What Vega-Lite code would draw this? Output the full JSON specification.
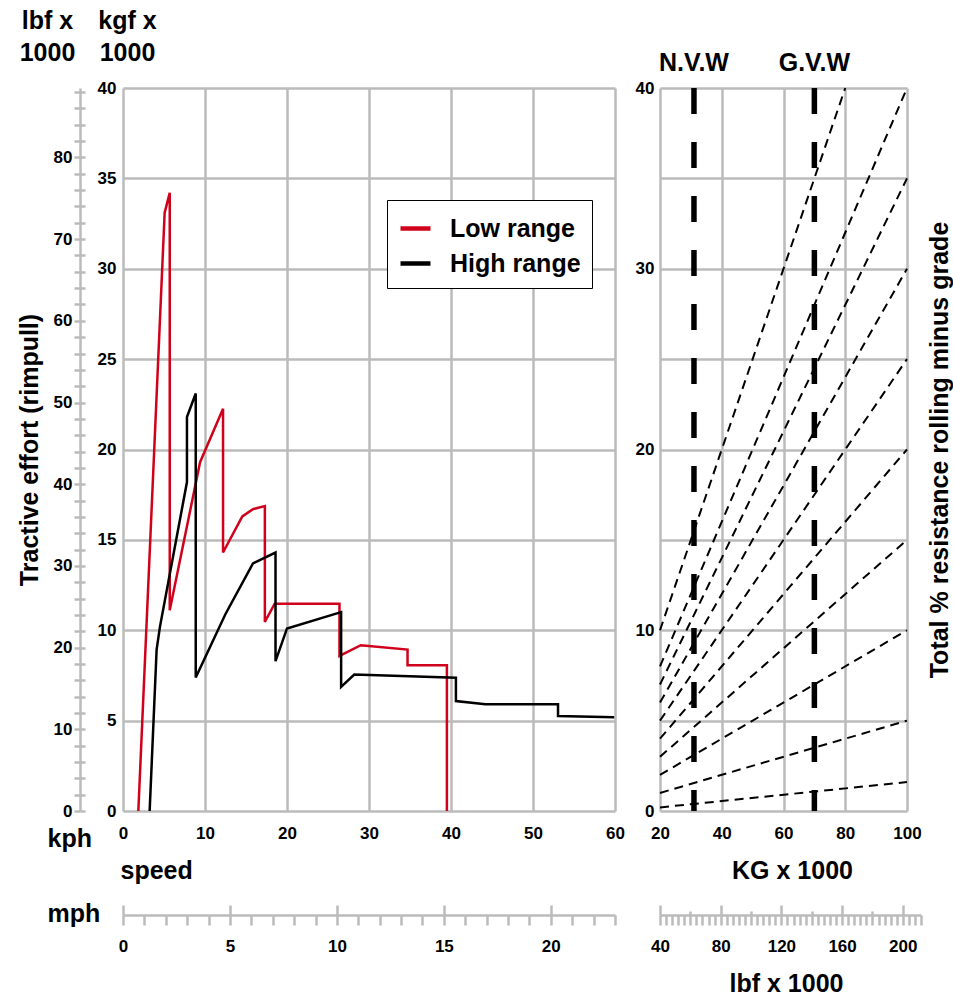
{
  "$schema": "https://vega.github.io/schema/vega-lite/v6.json",
  "background": "white",
  "padding": {"left": 17, "top": 8, "right": 5, "bottom": 5},
  "columns": 4,
  "align": "each",
  "bounds": "flush",
  "spacing": {"row": 0, "column": 45},
  "resolve": {"scale": {"color": "independent"}},
  "config": {
    "font": "Liberation Sans",
    "view": {"stroke": null},
    "axis": {
      "labelFont": "Liberation Sans", "labelFontSize": 17, "labelFontWeight": "bold", "labelColor": "#000",
      "titleFont": "Liberation Sans", "titleFontSize": 25, "titleFontWeight": "bold", "titleColor": "#000",
      "gridColor": "#bbbbbb", "gridWidth": 2.5, "gridOpacity": 1,
      "domainColor": "#bbbbbb", "domainWidth": 2.5,
      "tickColor": "#bbbbbb", "tickWidth": 2.5, "tickOpacity": 1,
      "labelFlush": false, "labelOverlap": false, "titlePadding": 0
    }
  },
  "concat": [
    {
      "width": 1, "height": 723,
      "data": {"values": [{}]},
      "mark": {"type": "rule", "opacity": 0},
      "encoding": {
        "y": {
          "datum": 0, "type": "quantitative",
          "scale": {"domain": [0, 88.5], "nice": false, "zero": false},
          "axis": {
            "orient": "left", "offset": -49,
            "values": [0,2,4,6,8,10,12,14,16,18,20,22,24,26,28,30,32,34,36,38,40,42,44,46,48,50,52,54,56,58,60,62,64,66,68,70,72,74,76,78,80,82,84,86,88],
            "labelExpr": "datum.value % 10 === 0 ? datum.label : ''",
            "grid": false, "domain": true, "ticks": true, "tickSize": 6, "labelPadding": 2,
            "title": ["lbf x", "1000"], "titleAngle": 0, "titleX": -33, "titleY": -80,
            "titleAlign": "center", "titleBaseline": "top", "titleLineHeight": 32
          }
        }
      }
    },
    {
      "width": 1, "height": 723,
      "data": {"values": [{}]},
      "mark": {"type": "rule", "opacity": 0},
      "encoding": {
        "y": {
          "datum": 0, "type": "quantitative",
          "scale": {"domain": [0, 88.5], "nice": false, "zero": false},
          "axis": {
            "orient": "left", "offset": -3,
            "values": [0,2,4,6,8,10,12,14,16,18,20,22,24,26,28,30,32,34,36,38,40,42,44,46,48,50,52,54,56,58,60,62,64,66,68,70,72,74,76,78,80,82,84,86,88],
            "labels": false, "grid": false, "domain": false, "ticks": true, "tickSize": -5,
            "title": "Tractive effort (rimpull)", "titleAngle": -90, "titleX": -51, "titleY": 361.5,
            "titleAlign": "center", "titleBaseline": "middle"
          }
        }
      }
    },
    {
      "width": 492,
      "height": 723,
      "data": {"values": [
        {"range": "Low range", "i": 1, "kph": 1.87, "kgf": 0},
        {"range": "Low range", "i": 2, "kph": 5.08, "kgf": 33.1},
        {"range": "Low range", "i": 3, "kph": 5.7, "kgf": 34.2},
        {"range": "Low range", "i": 4, "kph": 5.7, "kgf": 11.1},
        {"range": "Low range", "i": 5, "kph": 9.4, "kgf": 19.3},
        {"range": "Low range", "i": 6, "kph": 12.2, "kgf": 22.25},
        {"range": "Low range", "i": 7, "kph": 12.2, "kgf": 14.3},
        {"range": "Low range", "i": 8, "kph": 14.55, "kgf": 16.3},
        {"range": "Low range", "i": 9, "kph": 15.85, "kgf": 16.7},
        {"range": "Low range", "i": 10, "kph": 17.3, "kgf": 16.87},
        {"range": "Low range", "i": 11, "kph": 17.3, "kgf": 10.46},
        {"range": "Low range", "i": 12, "kph": 18.5, "kgf": 11.47},
        {"range": "Low range", "i": 13, "kph": 26.4, "kgf": 11.47},
        {"range": "Low range", "i": 14, "kph": 26.4, "kgf": 8.58},
        {"range": "Low range", "i": 15, "kph": 29.0, "kgf": 9.17},
        {"range": "Low range", "i": 16, "kph": 34.7, "kgf": 8.93},
        {"range": "Low range", "i": 17, "kph": 34.7, "kgf": 8.07},
        {"range": "Low range", "i": 18, "kph": 39.5, "kgf": 8.07},
        {"range": "Low range", "i": 19, "kph": 39.5, "kgf": 0},
        {"range": "High range", "i": 1, "kph": 3.25, "kgf": 0},
        {"range": "High range", "i": 2, "kph": 4.1, "kgf": 8.93},
        {"range": "High range", "i": 3, "kph": 4.51, "kgf": 10.2},
        {"range": "High range", "i": 4, "kph": 7.8, "kgf": 18.2},
        {"range": "High range", "i": 5, "kph": 7.8, "kgf": 21.8},
        {"range": "High range", "i": 6, "kph": 8.87, "kgf": 23.1},
        {"range": "High range", "i": 7, "kph": 8.87, "kgf": 7.39},
        {"range": "High range", "i": 8, "kph": 12.5, "kgf": 10.9},
        {"range": "High range", "i": 9, "kph": 15.85, "kgf": 13.7},
        {"range": "High range", "i": 10, "kph": 18.6, "kgf": 14.3},
        {"range": "High range", "i": 11, "kph": 18.6, "kgf": 8.29},
        {"range": "High range", "i": 12, "kph": 20.0, "kgf": 10.1},
        {"range": "High range", "i": 13, "kph": 26.6, "kgf": 11.0},
        {"range": "High range", "i": 14, "kph": 26.6, "kgf": 6.87},
        {"range": "High range", "i": 15, "kph": 28.2, "kgf": 7.55},
        {"range": "High range", "i": 16, "kph": 40.6, "kgf": 7.37},
        {"range": "High range", "i": 17, "kph": 40.6, "kgf": 6.08},
        {"range": "High range", "i": 18, "kph": 44.2, "kgf": 5.9},
        {"range": "High range", "i": 19, "kph": 53.05, "kgf": 5.9},
        {"range": "High range", "i": 20, "kph": 53.05, "kgf": 5.25},
        {"range": "High range", "i": 21, "kph": 59.9, "kgf": 5.18}
      ]},
      "mark": {"type": "line", "strokeWidth": 2.5, "strokeJoin": "miter"},
      "encoding": {
        "x": {
          "field": "kph", "type": "quantitative",
          "scale": {"domain": [0, 60], "nice": false, "zero": false},
          "axis": {
            "orient": "bottom", "values": [0, 10, 20, 30, 40, 50, 60], "grid": true, "ticks": false, "domain": false,
            "labelPadding": 14,
            "title": "kph", "titleX": -76, "titleY": 27, "titleAlign": "left", "titleBaseline": "middle"
          }
        },
        "y": {
          "field": "kgf", "type": "quantitative",
          "scale": {"domain": [0, 40], "nice": false, "zero": false},
          "axis": {
            "orient": "left", "values": [0, 5, 10, 15, 20, 25, 30, 35, 40], "grid": true, "ticks": false, "domain": false,
            "labelPadding": 7,
            "title": ["kgf x", "1000"], "titleAngle": 0, "titleX": 4, "titleY": -80,
            "titleAlign": "center", "titleBaseline": "top", "titleLineHeight": 32
          }
        },
        "color": {
          "field": "range", "type": "nominal",
          "scale": {"domain": ["Low range", "High range"], "range": ["#d0021b", "#000000"]},
          "legend": {
            "orient": "none", "legendX": 264, "legendY": 112, "title": null,
            "symbolType": "stroke", "symbolStrokeWidth": 4.5, "symbolSize": 900,
            "labelFont": "Liberation Sans", "labelFontSize": 25, "labelFontWeight": "bold", "labelColor": "#000",
            "strokeColor": "#000", "fillColor": "white", "padding": 11, "rowPadding": 4, "labelOffset": 17
          }
        },
        "order": {"field": "i", "type": "quantitative"}
      }
    },
    {
      "width": 247,
      "height": 723,
      "layer": [
        {
          "data": {"values": [
            {"g": 1.5, "kg": 20, "kgf": 0.2}, {"g": 1.5, "kg": 100, "kgf": 1.6},
            {"g": 5, "kg": 20, "kgf": 1}, {"g": 5, "kg": 100, "kgf": 5},
            {"g": 10, "kg": 20, "kgf": 2}, {"g": 10, "kg": 100, "kgf": 10},
            {"g": 15, "kg": 20, "kgf": 3}, {"g": 15, "kg": 100, "kgf": 15},
            {"g": 20, "kg": 20, "kgf": 4}, {"g": 20, "kg": 100, "kgf": 20},
            {"g": 25, "kg": 20, "kgf": 5}, {"g": 25, "kg": 100, "kgf": 25},
            {"g": 30, "kg": 20, "kgf": 6}, {"g": 30, "kg": 100, "kgf": 30},
            {"g": 35, "kg": 20, "kgf": 7}, {"g": 35, "kg": 100, "kgf": 35},
            {"g": 40, "kg": 20, "kgf": 8}, {"g": 40, "kg": 100, "kgf": 40},
            {"g": 50, "kg": 20, "kgf": 10}, {"g": 50, "kg": 80, "kgf": 40}
          ]},
          "mark": {"type": "line", "strokeDash": [9, 6], "strokeWidth": 2, "color": "#000"},
          "encoding": {
            "x": {
              "field": "kg", "type": "quantitative",
              "scale": {"domain": [20, 100], "nice": false, "zero": false},
              "axis": {
                "orient": "bottom", "values": [20, 40, 60, 80, 100], "grid": true, "ticks": false, "domain": false,
                "labelPadding": 14,
                "title": "KG x 1000", "titleX": 132, "titleY": 59, "titleAlign": "center", "titleBaseline": "middle"
              }
            },
            "y": {
              "field": "kgf", "type": "quantitative",
              "scale": {"domain": [0, 40], "nice": false, "zero": false},
              "axis": {
                "orient": "left", "values": [0, 5, 10, 15, 20, 25, 30, 35, 40],
                "labelExpr": "datum.value % 10 === 0 ? datum.label : ''",
                "grid": true, "ticks": false, "domain": false, "labelPadding": 6,
                "title": "Total % resistance rolling minus grade", "titleAngle": -90, "titleX": 279, "titleY": 361.5,
                "titleAlign": "center", "titleBaseline": "middle"
              }
            },
            "detail": {"field": "g", "type": "nominal"}
          }
        },
        {
          "data": {"values": [{"kg": 31, "name": "N.V.W"}, {"kg": 70, "name": "G.V.W"}]},
          "mark": {"type": "rule", "strokeDash": [26, 28], "strokeWidth": 5.5, "color": "#000", "strokeCap": "butt"},
          "encoding": {"x": {"field": "kg", "type": "quantitative"}}
        },
        {
          "data": {"values": [{"kg": 31, "name": "N.V.W"}, {"kg": 70, "name": "G.V.W"}]},
          "mark": {"type": "text", "font": "Liberation Sans", "fontSize": 25, "fontWeight": "bold", "color": "#000", "baseline": "middle", "align": "center", "dy": -25},
          "encoding": {
            "x": {"field": "kg", "type": "quantitative"},
            "y": {"datum": 40, "type": "quantitative"},
            "text": {"field": "name", "type": "nominal"}
          }
        }
      ]
    },
    {"width": 1, "height": 1, "data": {"values": [{}]}, "mark": {"type": "point", "opacity": 0}, "encoding": {}},
    {"width": 1, "height": 1, "data": {"values": [{}]}, "mark": {"type": "point", "opacity": 0}, "encoding": {}},
    {
      "width": 492, "height": 1,
      "data": {"values": [{}]},
      "mark": {"type": "rule", "opacity": 0},
      "encoding": {
        "x": {
          "datum": 0, "type": "quantitative",
          "scale": {"domain": [0, 23], "nice": false, "zero": false},
          "axis": {
            "orient": "bottom", "offset": 103,
            "values": [0,1,2,3,4,5,6,7,8,9,10,11,12,13,14,15,16,17,18,19,20,21,22,23],
            "labelExpr": "datum.value % 5 === 0 ? datum.label : ''",
            "grid": false, "domain": true, "ticks": true, "tickSize": 10, "labelPadding": 13,
            "title": "mph", "titleX": -76, "titleY": -2, "titleAlign": "left", "titleBaseline": "middle"
          }
        }
      }
    },
    {
      "width": 261, "height": 1,
      "data": {"values": [{}]},
      "mark": {"type": "rule", "opacity": 0},
      "encoding": {
        "x": {
          "datum": 40, "type": "quantitative",
          "scale": {"domain": [40, 212], "nice": false, "zero": false},
          "axis": {
            "orient": "bottom", "offset": 103,
            "values": [40,44,48,52,56,60,64,68,72,76,80,84,88,92,96,100,104,108,112,116,120,124,128,132,136,140,144,148,152,156,160,164,168,172,176,180,184,188,192,196,200,204,208,212],
            "labelExpr": "datum.value % 40 === 0 ? datum.label : ''",
            "grid": false, "domain": true, "ticks": true, "tickSize": 10, "labelPadding": 13,
            "title": "lbf x 1000", "titleX": 126, "titleY": 68, "titleAlign": "center", "titleBaseline": "middle"
          }
        }
      }
    },
    {"width": 1, "height": 1, "data": {"values": [{}]}, "mark": {"type": "point", "opacity": 0}, "encoding": {}},
    {"width": 1, "height": 1, "data": {"values": [{}]}, "mark": {"type": "point", "opacity": 0}, "encoding": {}},
    {
      "width": 492, "height": 1,
      "data": {"values": [{}]},
      "mark": {"type": "rule", "opacity": 0},
      "encoding": {
        "x": {
          "datum": 0, "type": "quantitative",
          "scale": {"domain": [0, 23], "nice": false, "zero": false},
          "axis": {
            "orient": "bottom", "offset": 102,
            "values": [0, 5, 10, 15, 20],
            "labels": false, "grid": false, "domain": false, "ticks": true, "tickSize": -10,
            "title": "speed", "titleX": -3, "titleY": -45, "titleAlign": "left", "titleBaseline": "middle"
          }
        }
      }
    },
    {
      "width": 261, "height": 1,
      "data": {"values": [{}]},
      "mark": {"type": "rule", "opacity": 0},
      "encoding": {
        "x": {
          "datum": 40, "type": "quantitative",
          "scale": {"domain": [40, 212], "nice": false, "zero": false},
          "axis": {
            "orient": "bottom", "offset": 102,
            "values": [40, 60, 80, 100, 120, 140, 160, 180, 200],
            "labels": false, "grid": false, "domain": false, "ticks": true,
            "tickSize": {"condition": {"test": "datum.value % 40 === 0", "value": -10}, "value": -4},
            "title": null
          }
        }
      }
    }
  ]
}
